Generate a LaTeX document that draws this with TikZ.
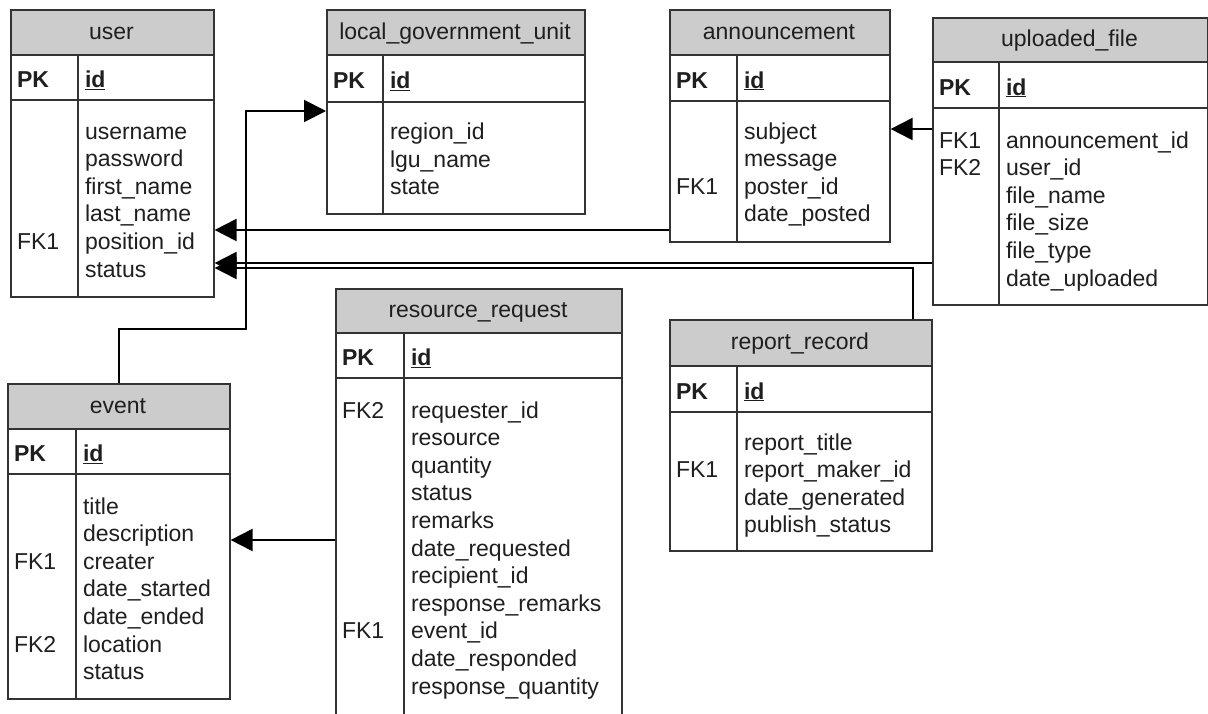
\documentclass[tikz,border=0pt]{standalone}
\usepackage{fontspec}
\setmainfont{Liberation Sans}
\usetikzlibrary{arrows.meta,calc}
\newcommand{\ertbl}[9]{% name, L, T, R, B, H, P, D, title
  \fill[hdrfill] (#2,#3) rectangle (#4,#6);
  \node[tblbox, anchor=north west, minimum width={#4-#2}, minimum height={#5-#3}] (#1) at (#2,#3) {};
  \draw[tblline] (#2,#6) -- (#4,#6) (#2,#7) -- (#4,#7) (#8,#6) -- (#8,#5);
  \node[txt, anchor=base] (#1-title) at ({(#2+#4)/2},{(#3+#6)/2+7}) {#9};
  \node[txt, anchor=base west] (#1-pk) at ({#2+7},{(#6+#7)/2+10}) {\textbf{PK}};
  \node[txt, anchor=base west] (#1-id) at ({#8+7},{(#6+#7)/2+10}) {\underline{\textbf{id}}};
}
\newcommand{\errows}[4]{% name, D, first baseline, list
  \foreach \t [count=\i from 0] in {#4}
    \node[txt, anchor=base west] (#1-r\i) at ({#2+7},{#3+\i*27.6}) {\t};
}
\newcommand{\erfk}[5]{% name, L, first baseline, row, label
  \node[txt, anchor=base west] (#1-#5) at ({#2+7},{#3+#4*27.6}) {#5};
}
\begin{document}
\begin{tikzpicture}[x=1pt,y=-1pt,
  txt/.style={inner sep=0pt, outer sep=0pt, text=black!88, font=\fontsize{23}{27.6}\selectfont},
  tblbox/.style={draw=black!80, line width=1.6pt, inner sep=0pt},
  tblline/.style={draw=black!80, line width=1.6pt},
  hdrfill/.style={fill=black!20},
  conn/.style={draw=black, line width=2pt, -{Triangle[length=22pt,width=22pt]}}]
\useasboundingbox (0,0) rectangle (1208,713);
\fill[white] (0,0) rectangle (1208,713);
\clip (0,0) rectangle (1208,713);

% user
\ertbl{user}{10}{9}{213}{296}{55}{100}{78}{user}
\errows{user}{78}{139}{username,password,first\_name,last\_name,position\_id,status}
\erfk{user}{10}{139}{4}{FK1}

% local_government_unit
\ertbl{lgu}{326}{9}{584}{213}{55}{102}{383}{local\_government\_unit}
\errows{lgu}{383}{139.5}{region\_id,lgu\_name,state}

% announcement
\ertbl{ann}{669}{9}{889}{241}{55}{101}{737}{announcement}
\errows{ann}{737}{139}{subject,message,poster\_id,date\_posted}
\erfk{ann}{669}{139}{2}{FK1}

% uploaded_file
\ertbl{upf}{932}{17}{1207}{304}{62}{108}{999}{uploaded\_file}
\errows{upf}{999}{148}{announcement\_id,user\_id,file\_name,file\_size,file\_type,date\_uploaded}
\erfk{upf}{932}{148}{0}{FK1}
\erfk{upf}{932}{148}{1}{FK2}

% event
\ertbl{event}{7}{383}{229}{698}{429}{474}{76}{event}
\errows{event}{76}{514}{title,description,creater,date\_started,date\_ended,location,status}
\erfk{event}{7}{514}{2}{FK1}
\erfk{event}{7}{514}{5}{FK2}

% resource_request
\ertbl{rr}{335}{288}{621}{740}{333}{378}{404}{resource\_request}
\errows{rr}{404}{418}{requester\_id,resource,quantity,status,remarks,date\_requested,recipient\_id,response\_remarks,event\_id,date\_responded,response\_quantity}
\erfk{rr}{335}{418}{0}{FK2}
\erfk{rr}{335}{418}{8}{FK1}

% report_record
\ertbl{rep}{669}{319}{931}{550}{366}{412}{737}{report\_record}
\errows{rep}{737}{450}{report\_title,report\_maker\_id,date\_generated,publish\_status}
\erfk{rep}{669}{450}{1}{FK1}

% connectors
\draw[conn] (upf.west |- 0,129) -- (ann.east |- 0,129);
\draw[conn] (ann.west |- 0,230) -- (user.east |- 0,230);
\draw[conn] (upf.west |- 0,263) -- (user.east |- 0,263);
\draw[conn] (913,0 |- rep.north) -- (913,268) -- (user.east |- 0,268);
\draw[conn] (event.north) |- (246,329) -- (246,111) -- (lgu.west |- 0,111);
\draw[conn] (rr.west |- 0,540) -- (event.east |- 0,540);
\end{tikzpicture}
\end{document}
